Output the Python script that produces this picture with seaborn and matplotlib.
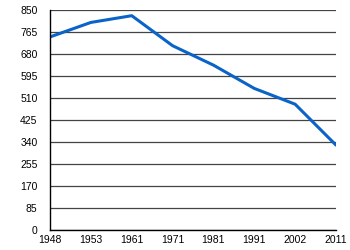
import matplotlib
matplotlib.use("Agg")
import matplotlib.pyplot as plt
import seaborn as sns
import pandas as pd

years = ["1948", "1953", "1961", "1971", "1981", "1991", "2002", "2011"]
values = [746, 802, 828, 712, 637, 547, 486, 328]
yticks = [0, 85, 170, 255, 340, 425, 510, 595, 680, 765, 850]

sns.set_style("white")
plt.rcParams['font.family'] = ['Liberation Sans', 'DejaVu Sans']

df = pd.DataFrame({"year": years, "value": values})
fig = plt.figure(figsize=(3.5, 2.5), dpi=100)
ax = fig.add_axes([0.143, 0.08, 0.817, 0.88])
sns.lineplot(data=df, x="year", y="value", ax=ax, color="#0a64c8", linewidth=2.2, sort=False)
ax.set_xlim(0, len(years) - 1)
ax.set_ylim(0, 850)
ax.set_yticks(yticks)
ax.set_yticklabels([str(v) for v in yticks])
ax.grid(axis="y", color="#444444", linewidth=0.9)
ax.set_axisbelow(True)
ax.set_xlabel("")
ax.set_ylabel("")
for s in ["top", "right"]:
    ax.spines[s].set_visible(False)
for s in ["left", "bottom"]:
    ax.spines[s].set_color("black")
    ax.spines[s].set_linewidth(1.0)
ax.tick_params(axis="x", direction="inout", length=5, width=1, labelsize=7.5, pad=1, colors="black")
ax.tick_params(axis="y", direction="out", length=7, width=1, labelsize=7.5, pad=2, colors="black")
fig.savefig("out.png", dpi=100)
